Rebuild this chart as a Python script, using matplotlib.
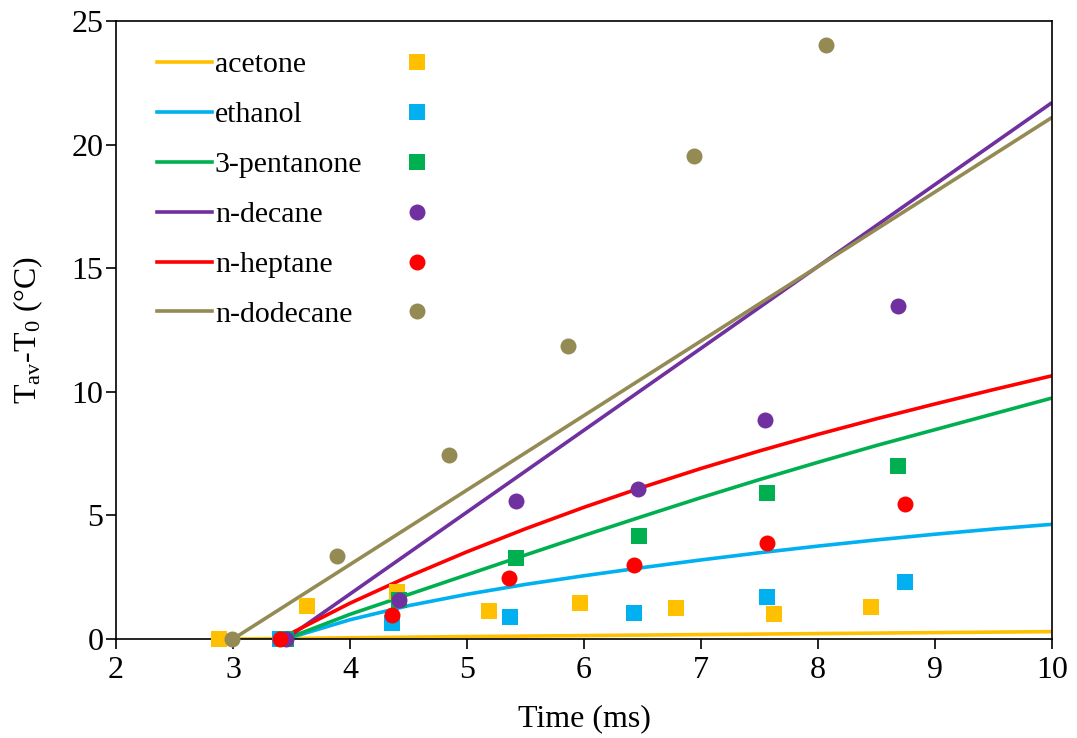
"""Droplet average temperature rise vs time: model lines and measured points."""
import matplotlib
matplotlib.use("Agg")
import matplotlib.pyplot as plt
from matplotlib.lines import Line2D

plt.rcParams["font.family"] = ["Liberation Serif", "DejaVu Serif"]
plt.rcParams["mathtext.fontset"] = "custom"
plt.rcParams["mathtext.rm"] = "Liberation Serif"
plt.rcParams["mathtext.it"] = "Liberation Serif:italic"

OUT = "out.png"

names = ["acetone", "ethanol", "3-pentanone", "n-decane", "n-heptane", "n-dodecane"]
colors = ["#FFC000", "#00B0F0", "#00B050", "#7030A0", "#FF0000", "#948A54"]
markers = ["s", "s", "s", "o", "o", "o"]

# model curves
acetone_t = [3.0, 5.0, 7.0, 10.0]
acetone_T = [0.0, 0.1, 0.18, 0.3]
ethanol_t = [3.45, 4, 4.5, 5, 5.5, 6, 6.5, 7, 7.5, 8, 8.5, 9, 9.5, 10]
ethanol_T = [0.0, 0.78, 1.35, 1.81, 2.21, 2.56, 2.89, 3.20, 3.49, 3.76, 4.01, 4.24, 4.45, 4.64]
pentanone_t = [3.45, 4, 4.5, 5, 5.5, 6, 6.5, 7, 7.5, 8, 8.5, 9, 9.5, 10]
pentanone_T = [0.0, 1.0, 1.8, 2.6, 3.4, 4.19, 4.96, 5.72, 6.45, 7.15, 7.83, 8.47, 9.11, 9.75]
decane_t = [3.45, 10.0]
decane_T = [0.0, 21.7]
heptane_t = [3.4, 4, 4.5, 5, 5.5, 6, 6.5, 7, 7.5, 8, 8.5, 9, 9.5, 10]
heptane_T = [0.0, 1.45, 2.53, 3.53, 4.46, 5.33, 6.14, 6.90, 7.61, 8.28, 8.91, 9.51, 10.09, 10.65]
dodecane_t = [3.0, 10.0]
dodecane_T = [0.0, 21.1]

# measured points
acetone_xt = [2.88, 3.63, 4.40, 5.19, 5.97, 6.79, 7.62, 8.45]
acetone_xT = [0.0, 1.34, 1.9, 1.13, 1.45, 1.25, 1.0, 1.3]
ethanol_xt = [3.40, 4.36, 5.37, 6.43, 7.56, 8.74]
ethanol_xT = [0.0, 0.65, 0.89, 1.05, 1.70, 2.3]
pentanone_xt = [3.45, 4.42, 5.42, 6.47, 7.56, 8.68]
pentanone_xT = [0.0, 1.58, 3.28, 4.17, 5.9, 7.0]
decane_xt = [3.45, 4.42, 5.42, 6.46, 7.55, 8.68]
decane_xT = [0.0, 1.58, 5.58, 6.07, 8.86, 13.47]
heptane_xt = [3.40, 4.36, 5.36, 6.43, 7.56, 8.74]
heptane_xT = [0.0, 0.97, 2.47, 3.0, 3.88, 5.46]
dodecane_xt = [2.99, 3.89, 4.85, 5.86, 6.94, 8.07]
dodecane_xT = [0.0, 3.36, 7.44, 11.85, 19.54, 24.03]

model = [(acetone_t, acetone_T), (ethanol_t, ethanol_T), (pentanone_t, pentanone_T),
         (decane_t, decane_T), (heptane_t, heptane_T), (dodecane_t, dodecane_T)]
meas = [(acetone_xt, acetone_xT), (ethanol_xt, ethanol_xT), (pentanone_xt, pentanone_xT),
        (decane_xt, decane_xT), (heptane_xt, heptane_xT), (dodecane_xt, dodecane_xT)]

FS = 23      # ticks and axis labels
LFS = 21.5   # legend
MS = 11.5
LW = 2.6

fig = plt.figure(figsize=(10.77, 7.38), dpi=100)
ax = fig.add_axes([0.1077, 0.1341, 0.8691, 0.8374])

for (t, T), c in zip(model, colors):
    ax.plot(t, T, color=c, linewidth=LW, solid_capstyle="butt",
            solid_joinstyle="round", zorder=2)
for (t, T), c, m in zip(meas, colors, markers):
    ax.plot(t, T, linestyle="none", marker=m, markersize=MS, color=c,
            markeredgewidth=0, clip_on=False, zorder=3)

ax.set_xlim(2, 10)
ax.set_ylim(0, 25)
ax.set_xticks(range(2, 11))
ax.set_yticks(range(0, 26, 5))
ax.tick_params(direction="out", length=7, width=1.2, labelsize=FS,
               top=False, right=False)
ax.tick_params(axis="y", pad=2)
ax.tick_params(axis="x", pad=5)
for sp in ax.spines.values():
    sp.set_linewidth(1.2)
ax.set_xlabel("Time (ms)", fontsize=FS, labelpad=14)
ax.set_ylabel(r"T$_{\mathrm{av}}$-T$_{\mathrm{0}}$ (°C)", fontsize=FS, labelpad=19)

line_h = [Line2D([], [], color=c, linewidth=LW) for c in colors]
leg1 = ax.legend(line_h, names, loc="upper left", bbox_to_anchor=(0.031, 0.970),
                 frameon=False, fontsize=LFS, handlelength=1.84, handletextpad=0.1,
                 labelspacing=0.77, borderaxespad=0)
ax.add_artist(leg1)
mark_h = [Line2D([], [], linestyle="none", marker=m, markersize=MS, color=c,
                 markeredgewidth=0) for c, m in zip(colors, markers)]
ax.legend(mark_h, [""] * 6, loc="upper left", bbox_to_anchor=(0.2927, 0.970),
          frameon=False, fontsize=LFS, handlelength=1.0, handletextpad=0,
          labelspacing=0.77, borderaxespad=0)

fig.savefig(OUT, dpi=100)
